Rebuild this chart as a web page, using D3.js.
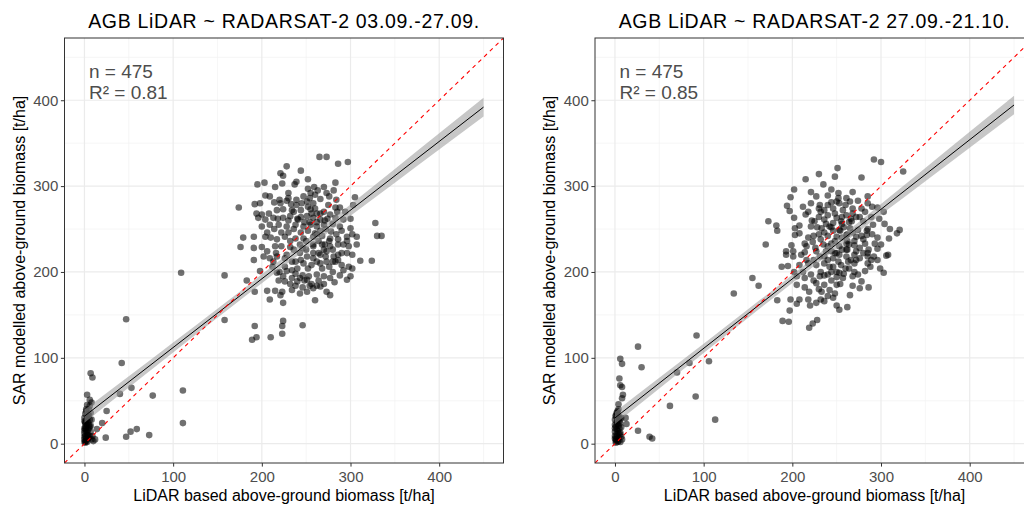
<!DOCTYPE html>
<html>
<head>
<meta charset="utf-8">
<script src="https://cdn.jsdelivr.net/npm/d3@7"></script>
<style>
  body { margin: 0; background: #fff; }
  svg { display: block; font-family: "Liberation Sans", Arial, sans-serif; }
</style>
</head>
<body>
<svg id="chart" width="1024" height="506"></svg>
<script>
// Panel titles and annotations.
const titles = ["AGB LiDAR ~ RADARSAT-2 03.09.-27.09.", "AGB LiDAR ~ RADARSAT-2 27.09.-21.10."];
const sampleSizes = [475, 475];
const rSquared = ["0.81", "0.85"];

const majorTicks = [0, 100, 200, 300, 400];
const minorTicks = [50, 150, 250, 350, 450];
const axisDomain = [-22.5, 472.5];

// Linear fit (SAR = a + b * LiDAR) and half width of the confidence band.
const fitIntercept = [32, 30];
const fitSlope = [0.80, 0.81];
const bandX = [0, 50, 100, 150, 200, 250, 300, 350, 400, 450];
const bandHalfA = [7.5, 6.5, 5.8, 5.3, 5.2, 5.5, 6.5, 8, 9.5, 11];
const bandHalfB = [7, 6.2, 5.5, 5, 4.9, 5.2, 6.2, 7.7, 9.2, 10.8];

// Points [LiDAR, SAR] in t/ha.
const pointsA = [
  [265,334],[273,334],[286,326],[297,328],[228,323],[244,318],[221,315],[224,312],[195,302],[203,304],
  [223,303],[215,299],[237,302],[239,305],[252,308],[283,304],[252,297],[259,299],[270,299],[273,292],
  [281,295],[230,292],[255,292],[263,295],[204,289],[209,288],[247,288],[239,284],[254,286],[266,285],
  [305,287],[192,279],[198,280],[214,281],[221,280],[228,283],[233,279],[239,278],[245,280],[251,282],
  [258,280],[275,278],[283,275],[288,275],[303,278],[174,275],[194,268],[200,267],[208,268],[217,272],
  [224,273],[234,272],[244,272],[255,273],[262,268],[270,270],[277,267],[285,270],[196,263],[204,261],
  [213,263],[224,263],[232,265],[241,261],[251,265],[258,263],[266,261],[271,260],[283,263],[292,261],
  [200,253],[209,255],[219,255],[228,253],[238,255],[247,253],[255,255],[262,253],[270,255],[288,253],
  [300,251],[328,257],[179,240],[191,241],[204,241],[217,238],[226,241],[238,239],[247,239],[258,241],
  [268,242],[277,239],[286,238],[296,241],[307,241],[330,242],[335,242],[176,229],[191,228],[200,229],
  [215,230],[232,229],[243,232],[258,230],[271,232],[277,230],[286,232],[298,230],[307,232],
  [206,224],[202,218],[209,216],[217,218],[228,220],[234,212],[243,222],[251,218],[258,216],[266,220],
  [273,224],[281,218],[286,220],[296,222],[302,220],[191,214],[213,212],[247,210],[256,208],[266,210],
  [273,212],[283,212],[311,213],[324,213],[298,206],[302,204],[292,202],[158,196],[183,190],[198,201],
  [217,199],[224,195],[228,201],[234,193],[243,193],[253,195],[262,197],[270,195],[277,193],[296,191],
  [300,195],[219,190],[226,189],[240,189],[251,191],[192,177],[206,178],[215,178],[223,177],[234,179],
  [243,175],[251,177],[258,181],[266,183],[273,177],[277,173],[209,168],[221,173],[224,164],[260,167],
  [158,144],[192,137],[223,137],[224,143],[246,138],[223,128],[189,121],[194,124],[210,124],
  [236,250],[244,246],[252,248],[260,245],[266,248],[240,262],[248,258],[256,268],[262,258],[230,246],
  [272,250],[278,247],[250,236],[258,222],[264,236],[270,226],[236,226],[244,214],[252,204],[262,212],
  [268,204],[276,206],[240,204],[232,236],[222,246],[218,262],[284,244],[280,226],[290,222],[254,184],
  [246,196],[264,190],[238,198],[226,216],[216,222],
  [232,186],[238,184],[246,182],[256,186],[262,184],[270,186],[282,188],[288,196],[290,208],[280,200],
  [248,190],[234,202],[226,206],[222,230],[230,260],[236,270],[244,264],[252,276],[260,274],[266,268],
  [274,262],[280,256],[290,248],[296,236],[302,244],[292,232],[286,214],[276,236],[268,232],[262,244],
  [254,258],[246,228],[238,212],[250,226],[258,232],[264,222],[272,218],[280,212],[210,240],[214,250],
  [206,246],[220,284],[230,286],[260,290],[276,288],[284,284],[294,270],[300,262],[220,200],[212,206],
  [42,94],[7,82],[9,77],[3,57],[6,51],[8,48],[5,40],[3,31],[1,24],[40,58],
  [53,65],[77,56],[111,62],[111,24],[25,38],[20,24],[14,17],[24,7],[47,8],[52,14],
  [59,17],[73,10],[12,5],[1,9],[1,17],[0,5],[1,1],[3,13],[5,7],[6,20],
  [0,18],[0,30],[47,145],[109,199],
  [2,3],[4,10],[0,12],[3,22],[2,27],[5,33],[6,28],[7,14],[8,5],[3,2],
  [5,18],[4,25],[1,35],[2,40],[6,44],[0,8],[2,15],[9,9],[10,3],[4,6],
  [1,20],[7,36],[3,45],[0,26],[1,3],[2,7],[3,10],[0,15],[4,16],[2,19],
  [5,22],[1,25],[3,29],[4,34],[2,38],[6,9],[0,2],[7,21],[8,28]
];

const pointsB = [
  [292,331],[300,328],[325,317],[251,321],[230,314],[248,311],[215,308],[278,310],[235,302],[202,296],
  [221,293],[268,293],[198,287],[227,288],[240,289],[252,286],[261,286],[285,288],[194,277],[212,276],
  [221,280],[231,278],[244,281],[253,280],[265,282],[274,283],[285,280],[197,271],[218,270],[236,272],
  [246,274],[257,272],[268,274],[278,274],[296,275],[303,270],[202,263],[230,264],[240,266],[250,263],
  [261,266],[272,264],[289,264],[173,259],[182,254],[215,267],[225,259],[236,261],[246,257],[255,259],
  [267,259],[280,259],[291,255],[203,251],[208,254],[221,253],[233,251],[242,253],[253,249],[265,251],
  [274,249],[285,250],[183,248],[203,243],[208,245],[230,244],[240,242],[250,241],[261,243],[272,241],
  [284,243],[321,249],[318,245],[309,239],[170,232],[199,231],[214,233],[223,235],[235,232],[244,233],
  [253,230],[261,233],[270,231],[282,233],[293,233],[193,224],[201,224],[214,223],[227,224],[238,224],
  [250,222],[261,226],[272,224],[285,222],[296,227],[308,220],
  [193,220],[201,218],[216,214],[231,218],[246,216],[253,220],[261,218],[270,220],[285,218],[289,214],
  [306,219],[188,206],[195,207],[202,200],[208,208],[218,210],[227,208],[236,210],[246,206],[255,208],
  [263,212],[270,210],[285,210],[299,204],[303,199],[282,201],[274,197],[155,193],[162,184],[205,195],
  [214,193],[221,197],[231,195],[240,197],[253,199],[257,193],[268,195],[278,189],[205,185],[214,182],
  [227,187],[236,185],[250,185],[268,184],[276,181],[286,182],[219,177],[233,177],[242,179],[248,175],
  [265,173],[183,167],[198,168],[208,168],[205,163],[218,168],[220,161],[227,164],[236,166],[250,161],
  [253,156],[262,159],[197,155],[189,143],[196,142],[228,144],[223,140],[219,135],
  [240,230],[248,236],[256,240],[262,236],[268,246],[232,238],[246,248],[258,252],[236,218],[244,224],
  [252,212],[260,204],[266,214],[242,206],[232,200],[224,214],[250,200],[262,226],[276,228],[280,238],
  [226,228],[218,240],[256,264],[264,258],[238,256],[248,268],[232,270],[276,216],[286,226],[254,186],
  [244,190],[230,180],
  [236,196],[244,200],[250,194],[258,198],[264,204],[270,200],[240,214],[248,222],[256,226],[264,232],
  [270,236],[278,242],[284,248],[290,244],[296,240],[300,232],[292,218],[280,222],[272,214],[262,244],
  [254,248],[244,252],[236,246],[228,252],[222,260],[230,274],[240,278],[250,282],[260,278],[268,268],
  [276,264],[282,270],[290,276],[298,262],[304,256],[310,250],[296,214],[288,206],[246,170],[240,172],
  [232,168],[224,190],[212,200],[210,220],[216,230],[224,242],[256,256],[266,262],[252,292],[244,296],
  [92,126],[6,99],[8,93],[26,113],[30,89],[5,76],[6,68],[8,66],[9,57],[8,53],
  [4,46],[70,83],[84,94],[106,96],[91,55],[62,44],[113,28],[26,15],[39,8],[42,6],
  [12,30],[13,23],[3,34],[0,28],[2,17],[0,9],[4,3],[1,1],[8,5],[6,13],
  [3,23],[4,40],[134,175],
  [2,5],[4,12],[1,20],[3,27],[5,31],[2,36],[6,24],[7,8],[0,14],[3,2],
  [5,18],[1,32],[4,7],[6,2],[2,11],[0,22],[7,30],[3,38],[1,5],[5,26],
  [1,3],[2,8],[3,15],[0,18],[4,21],[2,25],[5,29],[1,33],[3,36],[6,11],
  [0,6],[7,19]
];

const panelLeft = [64.5, 595];
const plotTop = 38;
const plotWidth = 439;
const plotHeight = 425;

const svg = d3.select("#chart");

const panels = [
  { title: titles[0], n: sampleSizes[0], r2: rSquared[0], points: pointsA,
    a: fitIntercept[0], b: fitSlope[0], band: bandHalfA, left: panelLeft[0] },
  { title: titles[1], n: sampleSizes[1], r2: rSquared[1], points: pointsB,
    a: fitIntercept[1], b: fitSlope[1], band: bandHalfB, left: panelLeft[1] }
];

panels.forEach(function(p, i) {
  drawPanel(p, i);
});

function drawPanel(p, index) {
  const x = d3.scaleLinear().domain(axisDomain).range([0, plotWidth]);
  const y = d3.scaleLinear().domain(axisDomain).range([plotHeight, 0]);

  const g = svg.append("g")
    .attr("transform", "translate(" + p.left + "," + plotTop + ")");

  g.append("clipPath").attr("id", "clip" + index)
    .append("rect").attr("width", plotWidth).attr("height", plotHeight);

  // Grid: minor lines thinner than major lines.
  const grid = g.append("g");
  minorTicks.forEach(function(t) {
    grid.append("line").attr("x1", x(t)).attr("x2", x(t)).attr("y1", 0).attr("y2", plotHeight)
      .attr("stroke", "#f2f2f2").attr("stroke-width", 0.7);
    grid.append("line").attr("y1", y(t)).attr("y2", y(t)).attr("x1", 0).attr("x2", plotWidth)
      .attr("stroke", "#f2f2f2").attr("stroke-width", 0.7);
  });
  majorTicks.forEach(function(t) {
    grid.append("line").attr("x1", x(t)).attr("x2", x(t)).attr("y1", 0).attr("y2", plotHeight)
      .attr("stroke", "#ebebeb").attr("stroke-width", 1.2);
    grid.append("line").attr("y1", y(t)).attr("y2", y(t)).attr("x1", 0).attr("x2", plotWidth)
      .attr("stroke", "#ebebeb").attr("stroke-width", 1.2);
  });

  const inner = g.append("g").attr("clip-path", "url(#clip" + index + ")");

  inner.selectAll(".pt")
    .data(p.points)
    .enter()
    .append("circle")
    .attr("class", "pt")
    .attr("cx", function(d) { return x(d[0]); })
    .attr("cy", function(d) { return y(d[1]); })
    .attr("r", 3.3)
    .attr("fill", "black")
    .attr("fill-opacity", 0.56);

  // Confidence band around the fit.
  const bandData = bandX.map(function(v, k) {
    return { x: v, fit: p.a + p.b * v, h: p.band[k] };
  });
  inner.append("path")
    .datum(bandData)
    .attr("d", d3.area()
      .curve(d3.curveMonotoneX)
      .x(function(d) { return x(d.x); })
      .y0(function(d) { return y(d.fit - d.h); })
      .y1(function(d) { return y(d.fit + d.h); }))
    .attr("fill", "#999999")
    .attr("fill-opacity", 0.55);

  inner.append("line")
    .attr("x1", x(bandX[0])).attr("y1", y(p.a + p.b * bandX[0]))
    .attr("x2", x(bandX[bandX.length - 1])).attr("y2", y(p.a + p.b * bandX[bandX.length - 1]))
    .attr("stroke", "black").attr("stroke-width", 1);

  // 1:1 line.
  inner.append("line")
    .attr("x1", x(axisDomain[0])).attr("y1", y(axisDomain[0]))
    .attr("x2", x(axisDomain[1])).attr("y2", y(axisDomain[1]))
    .attr("stroke", "red").attr("stroke-width", 1.1)
    .attr("stroke-dasharray", "4,4");

  g.append("rect")
    .attr("width", plotWidth).attr("height", plotHeight)
    .attr("fill", "none").attr("stroke", "#333333").attr("stroke-width", 1);

  const xAxis = g.append("g")
    .attr("transform", "translate(0," + plotHeight + ")")
    .call(d3.axisBottom(x).tickValues(majorTicks).tickSize(3.6).tickPadding(4.5));
  const yAxis = g.append("g")
    .call(d3.axisLeft(y).tickValues(majorTicks).tickSize(3.6).tickPadding(2.6));

  [xAxis, yAxis].forEach(function(ax) {
    ax.select(".domain").remove();
    ax.selectAll(".tick line").attr("stroke", "#333333");
    ax.selectAll(".tick text")
      .attr("fill", "#4d4d4d")
      .style("font-size", "15px")
      .style("font-family", "'Liberation Sans', Arial, sans-serif");
  });

  g.append("text")
    .attr("x", 24.5).attr("y", 40.3)
    .attr("fill", "#4d4d4d").style("font-size", "19px")
    .text("n = " + p.n);
  g.append("text")
    .attr("x", 24.5).attr("y", 61.3)
    .attr("fill", "#4d4d4d").style("font-size", "19px")
    .text("R\u00b2 = " + p.r2);

  g.append("text")
    .attr("x", plotWidth / 2).attr("y", -9.7)
    .attr("text-anchor", "middle")
    .attr("fill", "black")
    .style("font-size", "19.5px")
    .style("letter-spacing", "0.7px")
    .text(p.title);

  g.append("text")
    .attr("x", plotWidth / 2).attr("y", plotHeight + 38)
    .attr("text-anchor", "middle")
    .attr("fill", "black")
    .style("font-size", "16px")
    .text("LiDAR based above-ground biomass [t/ha]");

  g.append("text")
    .attr("transform", "translate(-40," + plotHeight / 2 + ") rotate(-90)")
    .attr("text-anchor", "middle")
    .attr("fill", "black")
    .style("font-size", "16px")
    .text("SAR modelled above-ground biomass [t/ha]");
}
</script>
</body>
</html>
